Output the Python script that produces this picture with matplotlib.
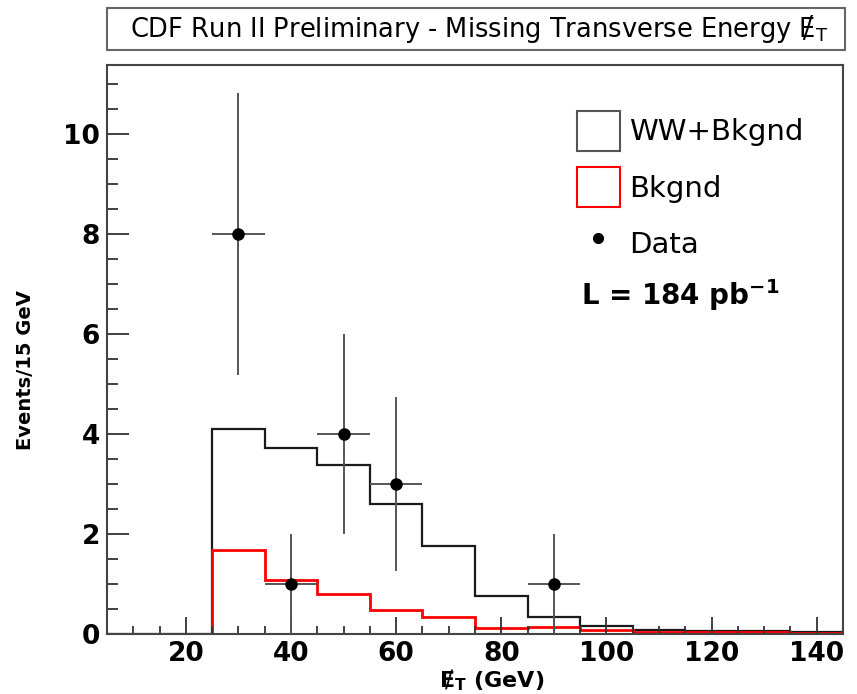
import numpy as np
import matplotlib
matplotlib.use("Agg")
import matplotlib.pyplot as plt
from matplotlib.patches import Patch, Rectangle
from matplotlib.lines import Line2D
from matplotlib.ticker import MultipleLocator

plt.rcParams['font.family'] = ['DejaVu Sans']

# missing ET binning (GeV)
bin_edges = [5, 15, 25, 35, 45, 55, 65, 75, 85, 95, 105, 115, 125, 135, 145]
ww_plus_bkg = [0, 0, 4.10, 3.71, 3.37, 2.60, 1.75, 0.76, 0.34, 0.15, 0.07, 0.05, 0.05, 0.04]
bkg_only = [0, 0, 1.67, 1.08, 0.79, 0.48, 0.33, 0.12, 0.14, 0.07, 0.03, 0.03, 0.03, 0.02]

# observed events
data_x = [30, 40, 50, 60, 90]
data_n = [8, 1, 4, 3, 1]
data_xerr = 5

lumi_text = r"L = 184 pb$^{\mathbf{-1}}$"

fig = plt.figure(figsize=(8.57, 6.94), dpi=100)
ax = fig.add_axes([0.1249, 0.0865, 0.8588, 0.8198])

ax.stairs(ww_plus_bkg, bin_edges, color="#1a1a1a", lw=1.6)
ax.stairs(bkg_only, bin_edges, color="red", lw=2.0)

yerr = np.sqrt(data_n)
ax.errorbar(data_x, data_n, xerr=data_xerr, yerr=yerr, fmt="o", color="black",
            ms=8, ecolor="#555555", elinewidth=1.4, capsize=0, zorder=5)

ax.set_xlim(5, 145)
ax.set_ylim(0, 11.38)
ax.xaxis.set_major_locator(MultipleLocator(20))
ax.xaxis.set_minor_locator(MultipleLocator(5))
ax.yaxis.set_major_locator(MultipleLocator(2))
ax.yaxis.set_minor_locator(MultipleLocator(0.5))
ax.tick_params(which="both", direction="in", top=False, right=False, color="#333333", width=1.3)
ax.tick_params(axis="y", which="major", length=16, pad=5, labelsize=19)
ax.tick_params(axis="y", which="minor", length=8)
ax.tick_params(axis="x", which="major", length=12, pad=5, labelsize=19)
ax.tick_params(axis="x", which="minor", length=6)
for lab in ax.get_xticklabels() + ax.get_yticklabels():
    lab.set_fontweight("bold")
for sp in ax.spines.values():
    sp.set_color("#444444")
    sp.set_linewidth(1.5)

ax.set_ylabel("Events/15 GeV", fontsize=14, fontweight="bold")
ax.yaxis.set_label_coords(-0.098, 0.464)
ax.set_xlabel("\u0246$_{\\mathbf{T}}$ (GeV)", fontsize=16, fontweight="bold")
ax.xaxis.set_label_coords(0.522, -0.058)

handles = [
    Patch(facecolor="none", edgecolor="#555555", lw=1.5),
    Patch(facecolor="none", edgecolor="red", lw=1.5),
    Line2D([], [], ls="none", marker="o", color="black", ms=7),
]
ax.legend(handles, ["WW+Bkgnd", "Bkgnd", "Data"], loc="upper left",
          bbox_to_anchor=(0.638, 0.92), frameon=False, fontsize=21,
          handlelength=1.5, handleheight=1.75, handletextpad=0.3,
          labelspacing=0.55, borderpad=0, borderaxespad=0)
ax.text(0.644, 0.596, lumi_text, transform=ax.transAxes, fontsize=20,
        fontweight="bold", va="center", ha="left")

# title box above the frame
fig.patches.append(Rectangle((0.1249, 0.928), 0.861, 0.0605, transform=fig.transFigure,
                             facecolor="white", edgecolor="#666666", lw=1.5))
fig.text(0.559, 0.958, "CDF Run II Preliminary - Missing Transverse Energy \u0246$_\\mathrm{T}$",
         ha="center", va="center", fontsize=18.5)

fig.savefig("out.png", dpi=100)
